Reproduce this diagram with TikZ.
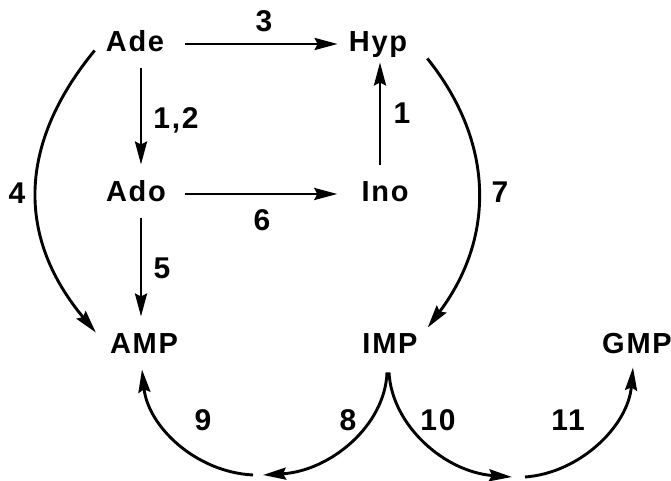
\documentclass[tikz,border=0pt]{standalone}
\usepackage{fontspec}
\setmainfont{Liberation Sans}[LetterSpace=6]
\usetikzlibrary{arrows.meta}
\begin{document}
\begin{tikzpicture}[x=1pt,y=1pt,
  met/.style={inner sep=0pt,text height=20.5pt,text depth=0pt,font=\fontsize{29}{30}\selectfont\bfseries},
  lab/.style={inner sep=0pt,font=\fontsize{30}{30}\selectfont\bfseries},
  arr/.style={line width=2.9pt,-{Stealth[length=23pt,width=12pt,inset=3pt]}}]
\useasboundingbox (0,0) rectangle (671,481);
% metabolites
\node[met] (Ade) at (135,440) {Ade};
\node[met] (Hyp) at (378,440) {Hyp};
\node[met] (Ado) at (136,290) {Ado};
\node[met] (Ino) at (385,290) {Ino};
\node[met] (AMP) at (144,138) {AMP};
\node[met] (IMP) at (390,138) {IMP};
\node[met] (GMP) at (637,138) {GMP};
% free ends at the bottom
\coordinate (g8) at (263,6);
\coordinate (g9) at (253,6);
\coordinate (g10) at (512,4);
\coordinate (g11) at (525,4);
% straight connectors
\draw[arr,shorten <=21pt,shorten >=11pt] ([yshift=-3pt]Ade.east) -- ([yshift=-3pt]Hyp.west);
\draw[arr,shorten <=17pt,shorten >=16pt] ([xshift=6pt]Ade.south) -- ([xshift=5pt]Ado.north);
\draw[arr,shorten <=16pt,shorten >=11pt] ([xshift=-5pt]Ino.north) -- ([xshift=2pt]Hyp.south);
\draw[arr,shorten <=19pt,shorten >=24pt] ([yshift=-3pt]Ado.east) -- ([yshift=-3pt]Ino.west);
\draw[arr,shorten <=17pt,shorten >=16pt] ([xshift=5pt]Ado.south) -- ([xshift=-3pt]AMP.north);
% curved connectors
\draw[arr] ([shift={(-11pt,1pt)}]Ade.south west) .. controls (17,336) and (17,243) .. ([shift={(-14pt,0pt)}]AMP.north west);
\draw[arr] ([shift={(20pt,-7pt)}]Hyp.south east) .. controls (495,338) and (495,243) .. ([shift={(10pt,5pt)}]IMP.north east);
\draw[arr] ([shift={(-3pt,-19pt)}]IMP.south) .. controls (385,55) and (330,10) .. (g8);
\draw[arr] (g9) .. controls (195,9) and (148,55) .. ([shift={(-2pt,-16pt)}]AMP.south);
\draw[arr] ([shift={(-1pt,-19pt)}]IMP.south) .. controls (392,55) and (445,9) .. (g10);
\draw[arr] (g11) .. controls (580,8) and (628,55) .. ([shift={(-4pt,-14pt)}]GMP.south);
% labels
\node[lab] (l3) at (264,460) {3};
\node[lab] (l12) at (176,361) {1,2};
\node[lab] (l1) at (402,368) {1};
\node[lab] (l6) at (262,261) {6};
\node[lab] (l4) at (17,288) {4};
\node[lab] (l7) at (500,289) {7};
\node[lab] (l5) at (162,213) {5};
\node[lab] (l9) at (203,61) {9};
\node[lab] (l8) at (348,61) {8};
\node[lab] (l10) at (438,61) {10};
\node[lab] (l11) at (568,61) {11};
\end{tikzpicture}
\end{document}
